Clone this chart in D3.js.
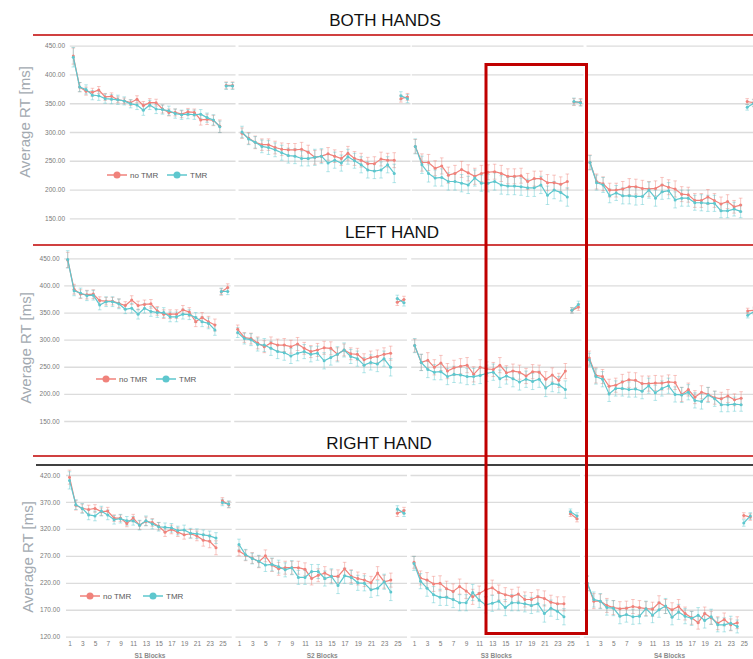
<!DOCTYPE html>
<html>
<head>
<meta charset="utf-8">
<script src="https://cdn.jsdelivr.net/npm/d3@7/dist/d3.min.js"></script>
<style>
  body { margin: 0; background: #fff; }
  svg { display: block; }
</style>
</head>
<body>
<div id="chart"></div>
<script>
// ---- data ----
const blocks = [1,2,3,4,5,6,7,8,9,10,11,12,13,14,15,16,17,18,19,20,21,22,23,24,25,26];
const xTickValues = [1,3,5,7,9,11,13,15,17,19,21,23,25];
const sessionLabels = ['S1 Blocks', 'S2 Blocks', 'S3 Blocks', 'S4 Blocks'];
const rowTitles = ['BOTH HANDS', 'LEFT HAND', 'RIGHT HAND'];
const seriesNames = ['no TMR', 'TMR'];
const yTicksBoth = [150, 200, 250, 300, 350, 400, 450];
const yTicksLeft = [150, 200, 250, 300, 350, 400, 450];
const yTicksRight = [120, 170, 220, 270, 320, 370, 420];

// mean RT per block, one array per session (S1..S4)
const bothNoTMR = [
  [432,378,371,369,373,361,362,356,354,351,357,346,351,351,340,334,334,331,335,334,321,322,320,310,381,381],
  [298,289,282,278,278,273,270,269,269,270,265,256,258,262,258,254,263,254,251,245,245,253,251,251,358,361],
  [275,247,247,237,241,225,228,235,229,223,228,230,231,228,223,223,224,214,219,219,212,212,209,214,352,352],
  [247,214,210,199,199,201,205,205,202,201,202,208,204,201,192,191,181,181,187,181,175,179,170,173,353,351]
];
const bothTMR = [
  [430,378,374,364,363,358,357,356,354,349,347,338,347,340,339,337,332,330,331,330,331,325,321,309,380,380],
  [300,288,282,275,273,269,264,259,258,254,254,256,258,246,251,246,257,250,243,234,232,234,243,228,363,358],
  [275,243,228,220,221,214,214,211,208,220,211,211,214,208,206,206,205,203,203,208,190,199,195,187,353,351],
  [247,212,208,189,194,189,189,188,188,199,185,196,198,182,185,185,177,177,176,176,163,163,166,162,343,350]
];
const leftNoTMR = [
  [447,393,384,383,384,372,371,371,367,363,373,363,365,366,353,347,347,347,355,351,333,341,333,327,388,396],
  [319,304,302,294,287,294,290,290,287,292,284,278,281,285,284,273,281,274,273,263,267,269,273,275,369,374],
  [289,258,262,249,257,242,248,251,253,236,249,246,245,253,239,242,240,233,241,240,227,235,225,242,354,360],
  [266,234,232,214,216,222,226,225,219,219,220,220,222,221,199,208,194,203,199,193,191,196,189,192,353,354]
];
const leftTMR = [
  [448,390,386,381,382,364,370,370,366,356,358,347,358,352,350,350,342,342,347,346,341,333,330,318,389,389],
  [313,302,300,291,290,284,278,276,270,275,278,273,275,261,267,273,281,269,265,253,258,255,265,249,376,368],
  [289,258,245,240,241,232,236,235,232,232,234,238,240,228,233,228,222,227,223,227,211,219,217,208,354,365],
  [263,232,227,200,210,210,208,209,205,215,202,210,215,199,198,203,188,186,198,191,180,180,181,180,345,352]
];
const rightNoTMR = [
  [416,364,358,356,358,352,353,340,340,330,340,327,334,332,325,314,319,314,309,311,307,299,297,285,372,365],
  [279,271,266,259,270,253,246,248,248,248,245,228,234,238,232,232,246,232,228,225,220,238,222,225,349,354],
  [258,229,225,218,219,209,204,213,205,194,200,207,211,202,198,195,199,189,189,194,191,184,181,181,348,339],
  [219,186,186,178,174,172,173,176,174,172,171,183,176,170,176,163,155,146,163,155,145,152,142,146,345,342]
];
const rightTMR = [
  [410,365,358,346,344,353,346,337,339,335,335,327,335,329,324,323,322,317,318,312,311,309,307,303,369,366],
  [291,272,265,260,253,254,250,244,248,230,230,241,241,228,232,215,233,230,220,219,207,210,222,203,357,349],
  [256,223,210,198,193,193,189,183,183,202,188,179,182,186,174,183,183,181,178,181,163,173,167,157,352,344],
  [219,189,186,174,173,158,161,157,158,172,160,170,177,156,166,158,154,160,150,157,142,142,145,139,331,344]
];

// error bar half-lengths (ms)
const bothNoTMRErr = [
  [14,8,7,7,6,6,6,5,5,5,6,7,7,6,7,6,6,6,6,6,9,9,9,11,6,6],
  [9,10,11,10,10,11,11,11,11,12,12,12,11,11,11,12,12,12,12,11,12,12,12,13,6,6],
  [12,15,14,13,14,14,14,14,14,14,14,13,13,14,13,13,13,14,13,13,14,13,13,13,6,6],
  [13,13,12,12,12,13,14,13,14,13,13,13,13,14,13,13,12,12,13,12,12,12,11,12,5,6]
];
const bothTMRErr = [
  [17,8,8,8,8,8,8,8,7,7,8,9,8,8,8,8,8,8,8,8,8,8,9,10,6,6],
  [10,10,10,11,12,12,13,13,13,13,13,14,13,15,14,14,13,13,14,14,13,14,14,16,7,7],
  [13,15,15,14,15,15,15,15,15,14,14,15,15,16,15,15,15,15,15,15,16,15,15,16,6,6],
  [12,13,13,12,13,14,14,15,14,14,14,13,14,14,14,14,13,14,14,14,12,12,12,11,5,6]
];
const leftNoTMRErr = [
  [14,9,8,8,8,7,7,7,8,7,8,8,8,8,8,8,8,8,8,8,9,9,10,11,6,7],
  [8,9,10,11,11,11,11,12,12,12,11,11,12,12,12,12,11,11,11,11,12,12,12,13,6,6],
  [12,15,14,14,14,14,14,14,14,14,14,13,13,14,13,13,13,14,13,13,14,13,13,14,5,6],
  [13,14,13,13,13,14,14,14,14,14,14,13,13,13,13,12,12,12,13,12,12,12,11,12,5,6]
];
const leftTMRErr = [
  [16,9,9,9,9,9,9,9,9,8,9,9,9,9,9,9,9,9,9,9,9,9,10,10,6,6],
  [9,10,11,12,12,13,13,14,14,14,13,14,13,15,14,14,13,13,14,14,14,14,14,16,6,6],
  [13,15,15,14,15,15,15,15,15,15,15,15,15,16,15,15,15,15,15,15,16,15,15,16,5,6],
  [12,14,14,14,14,14,14,15,14,14,14,14,14,14,14,14,14,14,14,14,13,13,13,12,5,6]
];
const rightNoTMRErr = [
  [13,9,8,8,7,7,7,6,6,6,7,8,8,7,7,8,8,8,8,8,9,11,12,13,6,6],
  [9,10,10,11,11,12,12,12,12,12,12,12,12,12,12,12,12,12,12,12,12,12,12,13,6,6],
  [11,13,14,14,14,14,14,14,14,14,14,13,14,14,13,13,13,14,13,13,14,13,13,13,5,6],
  [14,14,13,13,13,13,13,13,13,13,13,13,13,13,13,12,12,12,12,12,12,12,11,11,5,6]
];
const rightTMRErr = [
  [16,9,9,9,9,9,9,8,8,8,8,9,9,9,8,8,8,8,9,9,9,9,9,10,6,6],
  [10,10,10,11,12,12,12,13,13,13,13,13,13,14,14,15,14,13,14,14,14,14,14,16,6,6],
  [13,14,15,15,15,15,15,15,15,15,14,15,15,15,15,15,15,15,15,15,16,15,15,15,5,6],
  [13,14,14,14,14,14,14,14,14,14,14,14,14,14,14,14,13,14,14,14,13,13,13,12,6,6]
];

// ---- layout ----
const W = 753, H = 659;
const red = '#f0827b', teal = '#5ec7ce';
const redErr = 'rgba(240,130,123,0.45)', tealErr = 'rgba(94,199,206,0.45)';

const rows = [
  { title: rowTitles[0], titleX: 385, titleY: 26, ruleY: 35, yTop: 45.7, yBottom: 218.3, ticks: yTicksBoth,
    noTMR: bothNoTMR, tmr: bothTMR, noTMRErr: bothNoTMRErr, tmrErr: bothTMRErr,
    labelRight: 65, axisTitleX: 25, axisTitleY: 122, legendY: 175, legendX: [107, 167],
    panels: [[73.3, 6.37], [242, 6.62], [415.3, 6.61], [590, 6.55]] },
  { title: rowTitles[1], titleX: 392, titleY: 238, ruleY: 245, yTop: 258.3, yBottom: 421, ticks: yTicksLeft,
    noTMR: leftNoTMR, tmr: leftTMR, noTMRErr: leftNoTMRErr, tmrErr: leftTMRErr,
    labelRight: 59.5, axisTitleX: 26, axisTitleY: 348, legendY: 379, legendX: [96, 156],
    panels: [[67.7, 6.4], [237.7, 6.65], [414.7, 6.55], [589.3, 6.6]] },
  { title: rowTitles[2], titleX: 379, titleY: 449, ruleY: 456, yTop: 475, yBottom: 636.7, ticks: yTicksRight,
    noTMR: rightNoTMR, tmr: rightTMR, noTMRErr: rightNoTMRErr, tmrErr: rightTMRErr,
    labelRight: 60, axisTitleX: 28, axisTitleY: 557, legendY: 596, legendX: [80, 143],
    panels: [[69.5, 6.37], [239, 6.6], [414, 6.52], [587.3, 6.52]], blackRuleY: 465, xAxisY: 641 }
];

const svg = d3.select('#chart')
  .append('svg')
  .attr('width', W)
  .attr('height', H)
  .style('font-family', '"Liberation Sans", Arial, sans-serif');

rows.forEach(row => {
  const y = d3.scaleLinear()
    .domain([row.ticks[0], row.ticks[row.ticks.length - 1]])
    .range([row.yBottom, row.yTop]);

  // title + rules
  svg.append('text')
    .attr('x', row.titleX).attr('y', row.titleY)
    .attr('text-anchor', 'middle')
    .attr('font-size', 17)
    .attr('fill', '#111')
    .text(row.title);
  svg.append('line')
    .attr('x1', 33).attr('x2', W).attr('y1', row.ruleY).attr('y2', row.ruleY)
    .attr('stroke', '#c00000').attr('stroke-width', 1.5);
  if (row.blackRuleY) {
    svg.append('line')
      .attr('x1', 36).attr('x2', W).attr('y1', row.blackRuleY).attr('y2', row.blackRuleY)
      .attr('stroke', '#000').attr('stroke-width', 1.5);
  }

  // y tick labels
  svg.append('g')
    .attr('transform', `translate(${row.labelRight},0)`)
    .call(d3.axisLeft(y).tickValues(row.ticks).tickSize(0).tickPadding(0).tickFormat(d3.format('.2f')))
    .call(g => g.select('.domain').remove())
    .call(g => g.selectAll('text').attr('fill', '#7a7a7a').attr('font-size', 6.5)
      .attr('font-family', '"Liberation Sans", Arial, sans-serif'));

  // y axis title
  svg.append('text')
    .attr('transform', `translate(${row.axisTitleX},${row.axisTitleY}) rotate(-90)`)
    .attr('text-anchor', 'middle')
    .attr('dy', '0.35em')
    .attr('font-size', 15)
    .attr('fill', '#a3aab1')
    .text('Average RT [ms]');

  row.panels.forEach(([x0, step], p) => {
    const x = d3.scaleLinear()
      .domain([blocks[0], blocks[blocks.length - 1]])
      .range([x0, x0 + (blocks.length - 1) * step]);

    // gridlines
    const [gx0, gx1] = [x(blocks[0]) - 3.5, x(blocks[blocks.length - 1]) + 3];
    svg.append('g')
      .attr('transform', `translate(${gx0},0)`)
      .call(d3.axisRight(y).tickValues(row.ticks).tickSize(Math.min(gx1, W) - gx0).tickFormat(''))
      .call(g => g.select('.domain').remove())
      .call(g => g.selectAll('line').attr('stroke', '#dcdcdc').attr('stroke-width', 1.3));

    // x axis only on the bottom row
    if (row.xAxisY) {
      svg.append('g')
        .attr('transform', `translate(0,${row.xAxisY})`)
        .call(d3.axisBottom(x).tickValues(xTickValues).tickSize(0).tickPadding(0))
        .call(g => g.select('.domain').remove())
        .call(g => g.selectAll('text').attr('fill', '#7a7a7a').attr('font-size', 6.5)
          .attr('font-family', '"Liberation Sans", Arial, sans-serif'));
      svg.append('text')
        .attr('x', (x(1) + x(25)) / 2 + 4).attr('y', 658)
        .attr('text-anchor', 'middle')
        .attr('font-size', 6.5)
        .attr('font-weight', 'bold')
        .attr('fill', '#8a8a8a')
        .text(sessionLabels[p]);
    }

    const series = [
      { vals: row.noTMR[p], errs: row.noTMRErr[p], color: red, errColor: redErr },
      { vals: row.tmr[p], errs: row.tmrErr[p], color: teal, errColor: tealErr }
    ];

    const g = svg.append('g');
    // error bars first
    series.forEach(s => {
      const pts = blocks.map((b, i) => ({ b, v: s.vals[i], e: s.errs[i] }));
      const eb = g.append('g').selectAll('g').data(pts).enter().append('g');
      eb.append('line')
        .attr('x1', d => x(d.b)).attr('x2', d => x(d.b))
        .attr('y1', d => y(d.v - d.e)).attr('y2', d => y(d.v + d.e))
        .attr('stroke', s.errColor).attr('stroke-width', 1);
      [-1, 1].forEach(sign => {
        eb.append('line')
          .attr('x1', d => x(d.b) - 1.8).attr('x2', d => x(d.b) + 1.8)
          .attr('y1', d => y(d.v + sign * d.e)).attr('y2', d => y(d.v + sign * d.e))
          .attr('stroke', s.errColor).attr('stroke-width', 1);
      });
    });

    // lines and markers
    series.forEach(s => {
      const pts = blocks.map((b, i) => ({ b, v: s.vals[i] }));
      const line = d3.line().x(d => x(d.b)).y(d => y(d.v));
      g.append('path')
        .datum(pts.filter(d => d.b <= 24))
        .attr('d', line).attr('fill', 'none')
        .attr('stroke', s.color).attr('stroke-width', 1.2);
      g.append('path')
        .datum(pts.filter(d => d.b >= 25))
        .attr('d', line).attr('fill', 'none')
        .attr('stroke', s.color).attr('stroke-width', 1.2);
      g.selectAll(null).data(pts).enter().append('circle')
        .attr('cx', d => x(d.b)).attr('cy', d => y(d.v))
        .attr('r', 1.5).attr('fill', s.color);
    });
  });

  // legend in the first panel
  [red, teal].forEach((c, i) => {
    const lx = row.legendX[i];
    svg.append('line')
      .attr('x1', lx).attr('x2', lx + 20).attr('y1', row.legendY).attr('y2', row.legendY)
      .attr('stroke', c).attr('stroke-width', 1.5);
    svg.append('circle')
      .attr('cx', lx + 10).attr('cy', row.legendY).attr('r', 3.5).attr('fill', c);
    svg.append('text')
      .attr('x', lx + 23).attr('y', row.legendY).attr('dy', '0.35em')
      .attr('font-size', 8).attr('fill', '#595959')
      .text(seriesNames[i]);
  });
});

// highlight box around S3 blocks 13-24
svg.append('rect')
  .attr('x', 486).attr('y', 64.5)
  .attr('width', 100.5).attr('height', 569)
  .attr('fill', 'none')
  .attr('stroke', '#c00000')
  .attr('stroke-width', 3);
</script>
</body>
</html>
